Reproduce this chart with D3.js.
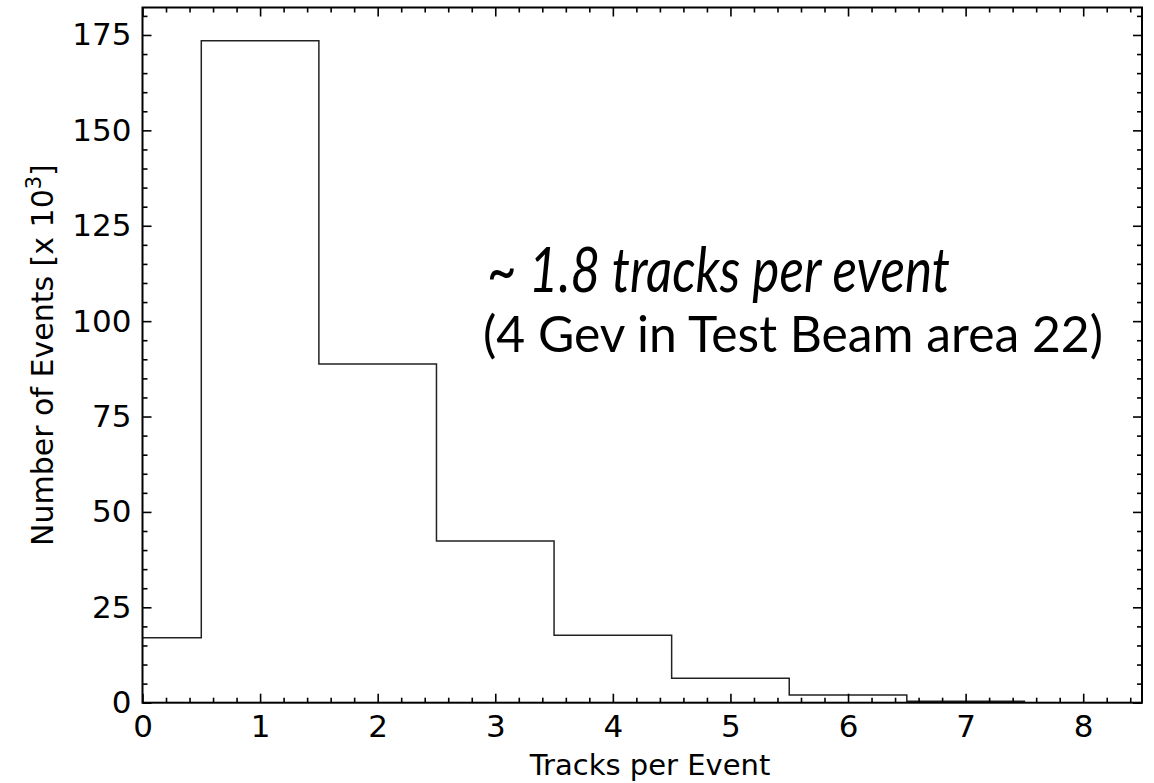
<!DOCTYPE html>
<html>
<head>
<meta charset="utf-8">
<script src="https://cdn.jsdelivr.net/npm/d3@7"></script>
<style>
  html, body { margin: 0; padding: 0; background: #fff; }
  svg text { font-family: "DejaVu Sans", sans-serif; fill: #000; }
</style>
</head>
<body>
<svg id="chart" width="1154" height="783"></svg>
<script>
// histogram data: tracks per event (bins centred on integers), counts in units of 10^3
const binCenters = [0, 1, 2, 3, 4, 5, 6, 7];
const counts = [17.0, 173.5, 88.8, 42.4, 17.7, 6.4, 2.0, 0.4];
const xTicks = [0, 1, 2, 3, 4, 5, 6, 7, 8];
const yTicks = [0, 25, 50, 75, 100, 125, 150, 175];
const annotation1 = '~ 1.8 tracks per event';
const annotation2 = '(4 Gev in Test Beam area 22)';

const svg = d3.select('#chart');
const margin = { left: 142.5, top: 7.5, right: 1154 - 1142, bottom: 783 - 702.7 };
const width = 1154 - margin.left - margin.right;
const height = 783 - margin.top - margin.bottom;

const x = d3.scaleLinear().domain([0, 8.5]).range([0, width]);
const y = d3.scaleLinear().domain([0, 182.2]).range([height, 0]);

const g = svg.append('g').attr('transform', `translate(${margin.left},${margin.top})`);

// clip so the first bin (starting at -0.5) is cut at x = 0
g.append('clipPath').attr('id', 'clip')
  .append('rect').attr('width', width).attr('height', height);

// step outline of the histogram
const pts = [[binCenters[0] - 0.5, 0]];
binCenters.forEach((c, i) => {
  pts.push([c - 0.5, counts[i]]);
  pts.push([c + 0.5, counts[i]]);
});
pts.push([binCenters[binCenters.length - 1] + 0.5, 0]);

const line = d3.line().x(d => x(d[0])).y(d => y(d[1]));
g.append('path')
  .datum(pts)
  .attr('clip-path', 'url(#clip)')
  .attr('fill', 'none')
  .attr('stroke', '#222')
  .attr('stroke-width', 1.5)
  .attr('d', line);

// ticks (inward, on all four sides)
const xMinor = d3.range(0, 8.5001, 0.2).filter(v => Math.abs(v - Math.round(v)) > 1e-6);
const yMinor = d3.range(0, 182, 5).filter(v => v % 25 !== 0);
const majorLen = 9, minorLen = 5;

function drawAxis(axisGen, transform) {
  const a = g.append('g').attr('transform', transform).call(axisGen);
  a.select('.domain').remove();
  a.selectAll('line').attr('stroke', '#000').attr('stroke-width', 1.6);
  return a;
}

// bottom
drawAxis(d3.axisBottom(x).tickValues(xMinor).tickSize(-minorLen).tickFormat(''), `translate(0,${height})`);
const xa = drawAxis(d3.axisBottom(x).tickValues(xTicks).tickSize(-majorLen).tickPadding(12)
  .tickFormat(d3.format('d')), `translate(0,${height})`);
xa.selectAll('text').style('font-size', '31px');
// top
drawAxis(d3.axisTop(x).tickValues(xMinor).tickSize(-minorLen).tickFormat(''), 'translate(0,0)');
drawAxis(d3.axisTop(x).tickValues(xTicks).tickSize(-majorLen).tickFormat(''), 'translate(0,0)');
// left
drawAxis(d3.axisLeft(y).tickValues(yMinor).tickSize(-minorLen).tickFormat(''), 'translate(0,0)');
const ya = drawAxis(d3.axisLeft(y).tickValues(yTicks).tickSize(-majorLen).tickPadding(11)
  .tickFormat(d3.format('d')), 'translate(0,0)');
ya.selectAll('text').style('font-size', '31px');
// right
drawAxis(d3.axisRight(y).tickValues(yMinor).tickSize(-minorLen).tickFormat(''), `translate(${width},0)`);
drawAxis(d3.axisRight(y).tickValues(yTicks).tickSize(-majorLen).tickFormat(''), `translate(${width},0)`);

// frame
g.append('rect')
  .attr('width', width).attr('height', height)
  .attr('fill', 'none').attr('stroke', '#000').attr('stroke-width', 2);

// axis labels
svg.append('text')
  .attr('x', 650)
  .attr('y', 775)
  .attr('text-anchor', 'middle')
  .style('font-size', '29px')
  .text('Tracks per Event');

const yl = svg.append('text')
  .attr('transform', `translate(53,${margin.top + height / 2}) rotate(-90)`)
  .attr('text-anchor', 'middle')
  .style('font-size', '30px');
yl.append('tspan').text('Number of Events [x 10');
yl.append('tspan').attr('dy', -12).style('font-size', '21px').text('3');
yl.append('tspan').attr('dy', 12).text(']');

// annotations
svg.append('text')
  .attr('x', 487).attr('y', 292)
  .attr('textLength', 463).attr('lengthAdjust', 'spacingAndGlyphs')
  .style('font-family', 'Lato, sans-serif')
  .style('font-style', 'italic')
  .style('font-size', '62px')
  .text(annotation1);

svg.append('text')
  .attr('x', 483).attr('y', 352)
  .attr('textLength', 620).attr('lengthAdjust', 'spacingAndGlyphs')
  .style('font-family', 'Lato, sans-serif')
  .style('font-size', '51px')
  .text(annotation2);
</script>
</body>
</html>
